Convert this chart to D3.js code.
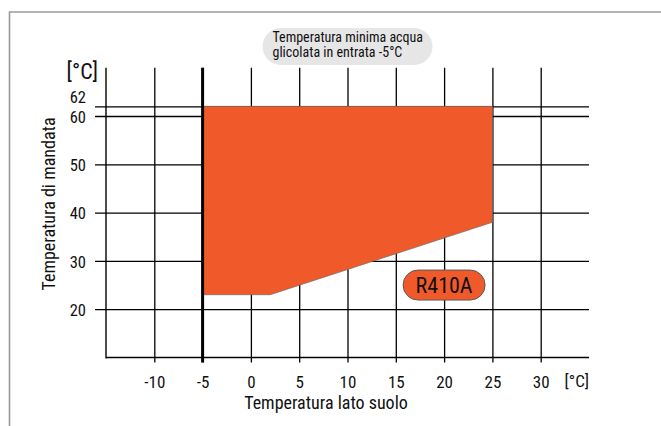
<!DOCTYPE html>
<html>
<head>
<meta charset="utf-8">
<script src="https://cdn.jsdelivr.net/npm/d3@7"></script>
<style>
  html, body { margin: 0; padding: 0; background: #fff; }
  svg { display: block; }
  text { font-family: "Liberation Sans Narrow", "Arial Narrow", "Roboto Condensed", sans-serif; fill: #111; }
</style>
</head>
<body>
<svg id="chart" width="661" height="426"></svg>
<script>
// Operating envelope (R410A): ground-side temperature vs. flow temperature
const xTicks = [-10, -5, 0, 5, 10, 15, 20, 25, 30];
const yTicks = [20, 30, 40, 50, 60, 62];
const envelopeX = [-5, 25, 25, 2, -5];
const envelopeY = [62, 62, 38, 23, 23];
const minInletTemp = -5;
const refrigerant = "R410A";
const refrigerantAt = [20, 25];
const noteLines = ["Temperatura minima acqua", "glicolata in entrata -5°C"];
const noteAtX = 10;
const xTitle = "Temperatura lato suolo";
const yTitle = "Temperatura di mandata";
const unit = "[°C]";

const svg = d3.select("#chart");
const x = d3.scaleLinear().domain([-15, 35]).range([106, 589]);
const y = d3.scaleLinear().domain([10, 70]).range([357.5, 67.7]);
const fmt = d => String(d); // plain hyphen for negatives

// frame
svg.append("path")
  .attr("d", "M9.5,426 V12 H661")
  .attr("fill", "none").attr("stroke", "#9a9a9a").attr("stroke-width", 1.6);

// vertical grid + x tick labels
const xAxis = d3.axisBottom(x).tickValues(xTicks)
  .tickSize(-(y(10) + 5 - y(70))).tickSizeOuter(0)
  .tickFormat(fmt);
const gx = svg.append("g").attr("transform", `translate(0,${y(10) + 5})`).call(xAxis);
gx.select(".domain").remove();
gx.selectAll(".tick line").attr("stroke", "#000").attr("stroke-width", 1.3);
gx.selectAll(".tick text")
  .attr("y", 25).attr("dy", 0)
  .style("font-size", "17px").attr("fill", "#111");

// horizontal grid + y tick labels (62 lifted clear of 60)
const yAxis = d3.axisLeft(y).tickValues(yTicks)
  .tickSize(x(35) - x(-15) + 11).tickSizeOuter(0).tickPadding(9)
  .tickFormat(fmt);
const gy = svg.append("g").attr("transform", `translate(${x(35)},0)`).call(yAxis);
gy.select(".domain").remove();
gy.selectAll(".tick line").attr("stroke", "#000").attr("stroke-width", 1.3);
gy.selectAll(".tick text")
  .style("font-size", "16.5px").attr("fill", "#111")
  .attr("dy", d => d === 62 ? "-0.22em" : (d === 60 ? "0.42em" : "0.38em"));

// axis lines
svg.append("line")
  .attr("x1", x(-15)).attr("x2", x(35)).attr("y1", y(10)).attr("y2", y(10))
  .attr("stroke", "#000").attr("stroke-width", 1.4);
svg.append("line")
  .attr("x1", x(-15)).attr("x2", x(-15)).attr("y1", y(70)).attr("y2", y(10) + 1)
  .attr("stroke", "#000").attr("stroke-width", 1.4);

// operating envelope
const pts = envelopeX.map((v, i) => [x(v), y(envelopeY[i])]);
svg.append("path")
  .attr("d", d3.line()(pts) + "Z")
  .attr("fill", "#f05a2b")
  .attr("stroke", "#6b6b6b").attr("stroke-width", 0.7);

// minimum inlet temperature line
svg.append("line")
  .attr("x1", x(minInletTemp)).attr("x2", x(minInletTemp))
  .attr("y1", y(70)).attr("y2", y(10) + 5)
  .attr("stroke", "#000").attr("stroke-width", 3);

// refrigerant badge
const bx = x(refrigerantAt[0]), by = y(refrigerantAt[1]);
svg.append("rect")
  .attr("x", bx - 41).attr("y", by - 15).attr("width", 82).attr("height", 30)
  .attr("rx", 15).attr("ry", 15)
  .attr("fill", "#f05a2b").attr("stroke", "#5a5a5a").attr("stroke-width", 1);
svg.append("text")
  .attr("x", bx).attr("y", by + 8)
  .attr("text-anchor", "middle")
  .style("font-size", "22px")
  .text(refrigerant);

// note bubble
const nx = x(noteAtX);
svg.append("rect")
  .attr("x", nx - 85).attr("y", 28).attr("width", 170).attr("height", 37)
  .attr("rx", 18.5).attr("ry", 18.5)
  .attr("fill", "#e6e6e6");
svg.append("g").selectAll("text").data(noteLines).join("text")
  .attr("x", nx - 75).attr("y", (d, i) => 42 + i * 15)
  .style("font-size", "14px")
  .text(d => d);

// axis titles and units
svg.append("text")
  .attr("x", 98).attr("y", 79).attr("text-anchor", "end")
  .style("font-size", "22px").text(unit);
svg.append("text")
  .attr("x", 589).attr("y", 387).attr("text-anchor", "end")
  .style("font-size", "17px").text(unit);
svg.append("text")
  .attr("x", 326).attr("y", 409).attr("text-anchor", "middle")
  .style("font-size", "18px").text(xTitle);
svg.append("text")
  .attr("transform", "translate(55,204) rotate(-90)")
  .attr("text-anchor", "middle")
  .style("font-size", "18px").text(yTitle);
</script>
</body>
</html>
